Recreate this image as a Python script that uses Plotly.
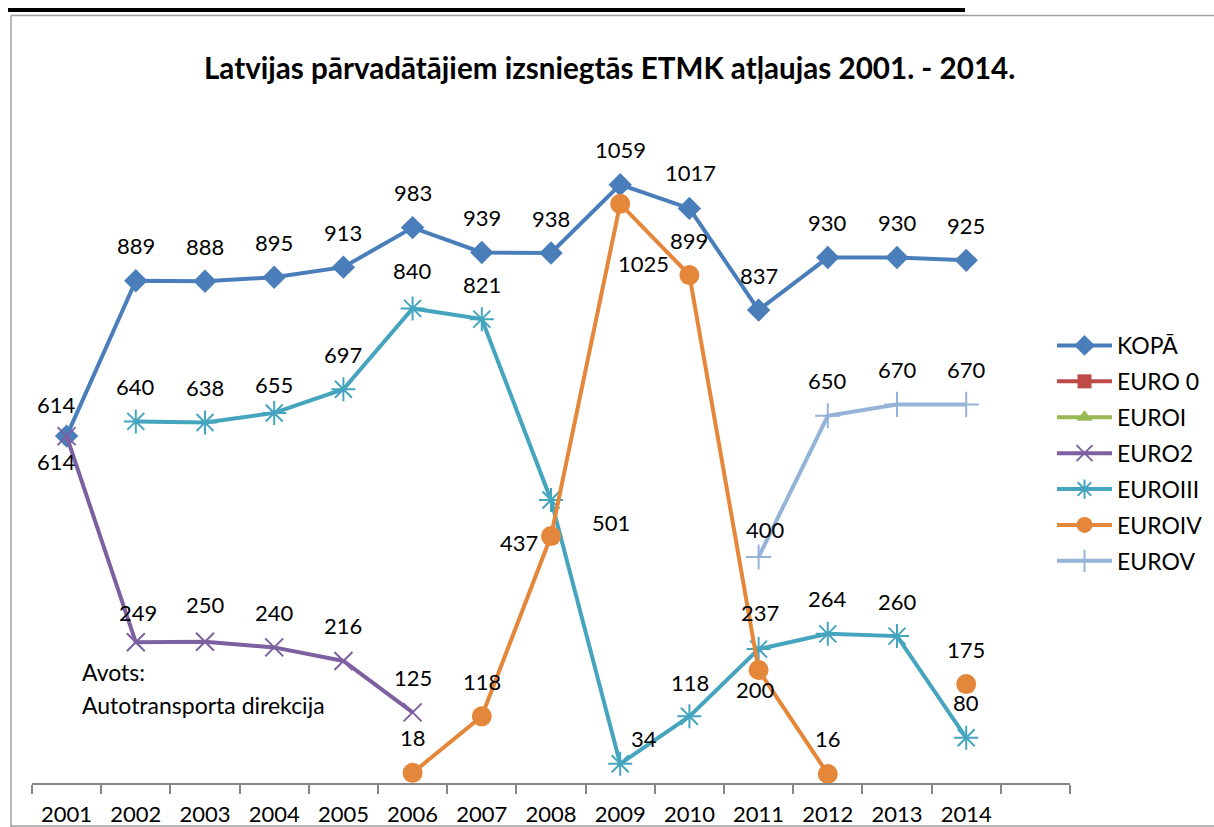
import plotly.graph_objects as go

years = [2001, 2002, 2003, 2004, 2005, 2006, 2007, 2008, 2009, 2010, 2011, 2012, 2013, 2014]
kopa = [614, 889, 888, 895, 913, 983, 939, 938, 1059, 1017, 837, 930, 930, 925]
euro0 = [None, None, None, None, None, None, None, None, None, None, None, None, None, None]
euroI = [None, None, None, None, None, None, None, None, None, None, None, None, None, None]
euro2 = [614, 249, 250, 240, 216, 125, None, None, None, None, None, None, None, None]
euroIII = [None, 640, 638, 655, 697, 840, 821, 501, 34, 118, 237, 264, 260, 80]
euroIV = [None, None, None, None, None, 18, 118, 437, 1025, 899, 200, 16, None, 175]
euroV = [None, None, None, None, None, None, None, None, None, None, 400, 650, 670, 670]

title = "Latvijas pārvadātājiem izsniegtās ETMK atļaujas 2001. - 2014."
source_lines = ["Avots:", "Autotransporta direkcija"]

FONT = "Lato"

series = [
    ("KOPĀ", kopa, "#4A7EBB", dict(symbol="diamond", size=18, color="#4A7EBB")),
    ("EURO 0", euro0, "#BE4B48", dict(symbol="square", size=14, color="#BE4B48")),
    ("EUROI", euroI, "#98B954", dict(symbol="triangle-up", size=14, color="#98B954")),
    ("EURO2", euro2, "#7D60A0", dict(symbol="x-thin-open", size=18, color="#7D60A0", line=dict(width=2, color="#7D60A0"))),
    ("EUROIII", euroIII, "#46A5BE", dict(symbol="asterisk-open", size=20, color="#46A5BE", line=dict(width=2, color="#46A5BE"))),
    ("EUROIV", euroIV, "#E5873A", dict(symbol="circle", size=20, color="#E5873A")),
    ("EUROV", euroV, "#95B3D7", dict(symbol="cross-thin-open", size=18, color="#95B3D7", line=dict(width=2, color="#95B3D7"))),
]

fig = go.Figure()
for name, vals, col, mk in series:
    fig.add_trace(go.Scatter(
        x=years, y=vals, name=name, mode="lines+markers",
        line=dict(color=col, width=4), marker=mk,
        legendgroup=name, cliponaxis=False, hoverinfo="skip",
    ))

# label offsets (pixels) per series: default is above the point
default_off = (0, 35)
label_offsets = {
    "KOPĀ": {2001: (-10, 32), 2010: (1, 36)},
    "EURO2": {2001: (-10, -25), 2002: (2, 30), 2003: (0, 37)},
    "EUROIII": {2004: (0, 28), 2006: (0, 38), 2008: (60, -23), 2009: (24, 25), 2010: (1, 34), 2011: (1, 37)},
    "EUROIV": {2008: (-32, -6), 2009: (23, -60), 2011: (-3, -19)},
    "EUROV": {2011: (7, 28)},
}

W0, W1 = 32, 1214 - 144
H0, H1 = 105, 827 - 44


def px(xp):
    return (xp - W0) / (W1 - W0)


def py(yp):
    return (H1 - yp) / (H1 - H0)


annotations = []
for name, vals, col, mk in series:
    offs = label_offsets.get(name, {})
    for yr, v in zip(years, vals):
        if v is None:
            continue
        dx, dy = offs.get(yr, default_off)
        annotations.append(dict(
            x=yr, y=v, xref="x", yref="y", text=str(v), showarrow=False,
            xshift=dx, yshift=dy, xanchor="center", yanchor="middle",
            font=dict(family=FONT, size=22, color="#000000"),
        ))

annotations.append(dict(
    x=px(609), y=py(68), xref="paper", yref="paper", text="<b>" + title + "</b>", showarrow=False,
    xanchor="center", yanchor="middle",
    font=dict(family=FONT, size=29.6, color="#000000"),
))
annotations.append(dict(x=px(80), y=py(672), xref="paper", yref="paper", text=source_lines[0],
                        showarrow=False, xanchor="left", yanchor="middle",
                        font=dict(family=FONT, size=23, color="#000000")))
annotations.append(dict(x=px(80), y=py(705), xref="paper", yref="paper", text=source_lines[1],
                        showarrow=False, xanchor="left", yanchor="middle",
                        font=dict(family=FONT, size=23, color="#000000")))

fig.update_layout(
    width=1214, height=827,
    margin=dict(l=W0, r=1214 - W1, t=H0, b=827 - H1, autoexpand=False),
    paper_bgcolor="white", plot_bgcolor="white",
    showlegend=True,
    legend=dict(
        x=px(1052), y=py(324), xanchor="left", yanchor="top",
        font=dict(family=FONT, size=23, color="#000000"),
        itemwidth=55, tracegroupgap=3, bgcolor="rgba(0,0,0,0)",
    ),
    xaxis=dict(
        range=[2000.5, 2015.5], tickmode="array", tickvals=years,
        ticktext=[str(y) for y in years], ticks="", showgrid=False, zeroline=False,
        showline=True, linecolor="#868686", linewidth=1.5,
        tickfont=dict(family=FONT, size=22, color="#000000"),
        ticklabelstandoff=11,
        minor=dict(tickmode="array", tickvals=[y - 0.5 for y in years] + [2014.5, 2015.5],
                   ticks="outside", ticklen=9, tickcolor="#868686", tickwidth=1.5, showgrid=False),
    ),
    yaxis=dict(range=[0, 1200], visible=False, showgrid=False, zeroline=False),
    annotations=annotations,
    shapes=[
        dict(type="line", xref="paper", yref="paper", x0=px(8), x1=px(965), y0=py(10), y1=py(10),
             line=dict(color="black", width=4)),
        dict(type="line", xref="paper", yref="paper", x0=px(11), x1=px(1214), y0=py(15.5), y1=py(15.5),
             line=dict(color="#A0A0A0", width=1.5)),
        dict(type="line", xref="paper", yref="paper", x0=px(11), x1=px(11), y0=py(15.5), y1=py(827),
             line=dict(color="#A0A0A0", width=1.5)),
        dict(type="line", xref="paper", yref="paper", x0=px(11), x1=px(1214), y0=py(826), y1=py(826),
             line=dict(color="#A0A0A0", width=1.5)),
    ],
)

fig.write_html(
    "out.html",
    config={"displayModeBar": False},
    post_script="document.body.style.margin='0';document.body.style.overflow='hidden';",
)
